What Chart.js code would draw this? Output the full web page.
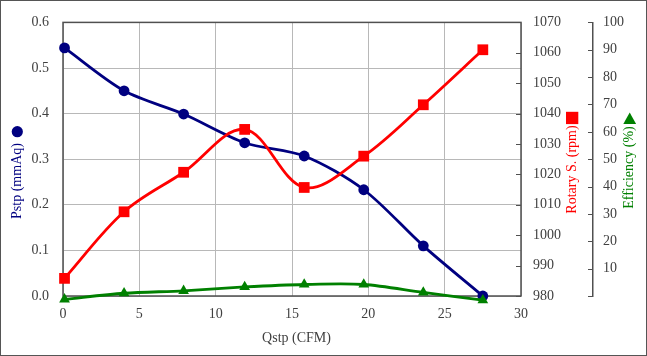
<!DOCTYPE html>
<html><head><meta charset="utf-8">
<script src="https://cdn.jsdelivr.net/npm/chart.js@4.4.1/dist/chart.umd.min.js"></script>
<style>html,body{margin:0;padding:0;background:#fff;overflow:hidden}#wrap{width:647px;height:356px;position:relative}canvas{display:block}</style>
</head><body><div id="wrap"><canvas id="c" width="647" height="356"></canvas></div>
<script>
// ---- data ----
const qstp = [0.1, 4.0, 7.9, 11.9, 15.8, 19.7, 23.6, 27.5];            // CFM
const pstp = [0.544, 0.450, 0.399, 0.336, 0.307, 0.233, 0.110, 0.0];   // mmAq
const rotarySpeed = [985.8, 1007.7, 1020.7, 1034.8, 1015.7, 1026.0, 1042.9, 1061.0]; // rpm
const efficiency = [-1.2, 1.0, 1.9, 3.3, 4.2, 4.2, 1.3, -1.5];        // %
const xTicks = [0, 5, 10, 15, 20, 25, 30];
const pstpTicks = [0, 0.1, 0.2, 0.3, 0.4, 0.5, 0.6];
const rpmTicks = [980, 990, 1000, 1010, 1020, 1030, 1040, 1050, 1060, 1070];
const effTicks = [0, 10, 20, 30, 40, 50, 60, 70, 80, 90, 100];

const titles = { x: 'Qstp (CFM)', y: 'Pstp (mmAq)', y1: 'Rotary S. (rpm)', y2: 'Efficiency (%)' };

const NAVY = '#000080', RED = '#ff0000', GREEN = '#008000';
const FONT = 'Liberation Serif, Times New Roman, serif';
const FRAME = '#505050', GRID = '#b8b8b8', TXT = '#404040';

const pts = (ys) => qstp.map((x, i) => ({ x, y: ys[i] }));

const decor = {
  id: 'decor',
  beforeDatasetsDraw(chart) {
    const { ctx, chartArea: a } = chart;
    ctx.save();
    ctx.strokeStyle = FRAME; ctx.lineWidth = 1.5;
    ctx.strokeRect(a.left, a.top, a.right - a.left, a.bottom - a.top);
    // inward tick marks on right axes
    const s1 = chart.scales.y1, s2 = chart.scales.y2;
    ctx.lineWidth = 1.2;
    ctx.beginPath();
    rpmTicks.forEach(v => { const p = Math.round(s1.getPixelForValue(v)) + 0.5; ctx.moveTo(s1.left - 5, p); ctx.lineTo(s1.left, p); });
    effTicks.forEach(v => { const p = Math.round(s2.getPixelForValue(v)) + 0.5; ctx.moveTo(s2.left - 5, p); ctx.lineTo(s2.left, p); });
    ctx.stroke();
    ctx.restore();
  },
  afterDraw(chart) {
    const { ctx } = chart;
    ctx.save();
    ctx.font = '14px ' + FONT;
    ctx.textAlign = 'center'; ctx.textBaseline = 'middle';
    // x title
    ctx.fillStyle = TXT;
    ctx.fillText(titles.x, 296.5, 338);
    // left title
    ctx.save(); ctx.translate(17, 181); ctx.rotate(-Math.PI / 2);
    ctx.fillStyle = NAVY; ctx.fillText(titles.y, 0, 0); ctx.restore();
    ctx.fillStyle = NAVY; ctx.beginPath(); ctx.arc(17.3, 131.7, 5.6, 0, Math.PI * 2); ctx.fill();
    // rotary title
    ctx.save(); ctx.translate(572.5, 169.5); ctx.rotate(-Math.PI / 2);
    ctx.fillStyle = RED; ctx.fillText(titles.y1, 0, 0); ctx.restore();
    ctx.fillStyle = RED; ctx.fillRect(566, 111.8, 12.3, 12.3);
    // efficiency title
    ctx.save(); ctx.translate(629.5, 167.5); ctx.rotate(-Math.PI / 2);
    ctx.fillStyle = GREEN; ctx.fillText(titles.y2, 0, 0); ctx.restore();
    ctx.fillStyle = GREEN; ctx.beginPath();
    ctx.moveTo(629.7, 112.5); ctx.lineTo(623.3, 124); ctx.lineTo(636.1, 124); ctx.closePath(); ctx.fill();
    // outer frame
    ctx.strokeStyle = '#555'; ctx.lineWidth = 1;
    ctx.strokeRect(0.5, 0.5, 646, 355);
    ctx.restore();
  }
};

const tickFont = { family: FONT, size: 14 };

new Chart(document.getElementById('c'), {
  type: 'line',
  data: {
    datasets: [
      { label: 'Pstp', data: pts(pstp), yAxisID: 'y', order: 2, borderColor: NAVY, backgroundColor: NAVY,
        borderWidth: 2.8, pointStyle: 'circle', pointRadius: 5.4, pointBorderWidth: 0, tension: 0.3, clip: false },
      { label: 'Rotary S.', data: pts(rotarySpeed), yAxisID: 'y1', order: 1, borderColor: RED, backgroundColor: RED,
        borderWidth: 2.8, pointStyle: 'rect', pointRadius: 7.6, pointBorderWidth: 0, tension: 0.35, clip: false },
      { label: 'Efficiency', data: pts(efficiency), yAxisID: 'y2', order: 0, borderColor: GREEN, backgroundColor: GREEN,
        borderWidth: 2.8, pointStyle: 'triangle', pointRadius: 6.2, pointBorderWidth: 0, tension: 0.3, clip: false }
    ]
  },
  options: {
    responsive: false, animation: false, devicePixelRatio: 1,
    layout: { padding: { top: 19, left: 0, right: 0, bottom: 0 } },
    plugins: { legend: { display: false }, tooltip: { enabled: false } },
    scales: {
      x: { type: 'linear', min: 0, max: 30,
        afterBuildTicks: s => { s.ticks = xTicks.map(v => ({ value: v })); },
        afterFit: s => { s.height = 60; },
        grid: { color: GRID, lineWidth: 1, drawTicks: false },
        border: { display: false },
        ticks: { font: tickFont, color: TXT, padding: 10, maxRotation: 0, callback: v => String(v) } },
      y: { type: 'linear', position: 'left', min: 0, max: 0.6,
        afterBuildTicks: s => { s.ticks = pstpTicks.map(v => ({ value: v })); },
        afterFit: s => { s.width = 63; },
        grid: { color: GRID, lineWidth: 1, drawTicks: false },
        border: { display: false },
        ticks: { font: tickFont, color: TXT, padding: 14, callback: v => Number(v).toFixed(1) } },
      y1: { type: 'linear', position: 'right', min: 980, max: 1070,
        afterBuildTicks: s => { s.ticks = rpmTicks.map(v => ({ value: v })); },
        afterFit: s => { s.width = 72; },
        grid: { drawOnChartArea: false, drawTicks: false },
        border: { display: false },
        ticks: { font: tickFont, color: TXT, padding: 12, callback: v => String(v) } },
      y2: { type: 'linear', position: 'right', min: 0, max: 100,
        afterBuildTicks: s => { s.ticks = effTicks.map(v => ({ value: v })); },
        afterFit: s => { s.width = 54; },
        grid: { drawOnChartArea: false, drawTicks: false },
        border: { display: true, color: FRAME, width: 1.5 },
        ticks: { font: tickFont, color: TXT, padding: 10, callback: v => v === 0 ? '' : String(v) } }
    }
  },
  plugins: [decor]
});
</script></body></html>
